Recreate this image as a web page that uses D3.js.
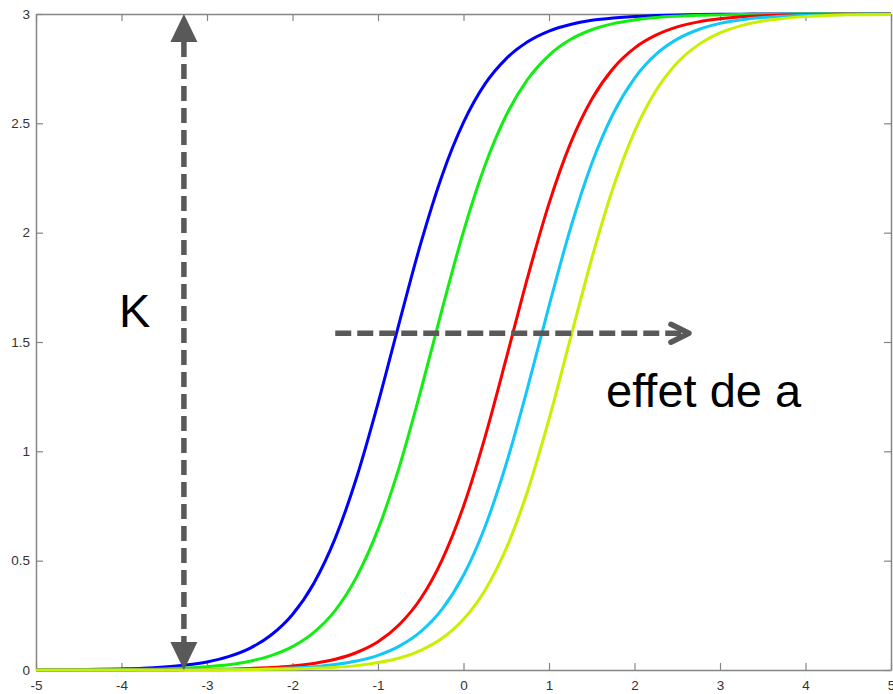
<!DOCTYPE html>
<html>
<head>
<meta charset="utf-8">
<script src="https://cdn.jsdelivr.net/npm/d3@7"></script>
<style>
  html, body { margin: 0; padding: 0; background: #fff; }
  svg { display: block; font-family: "Liberation Sans", Arial, Helvetica, sans-serif; }
</style>
</head>
<body>
<svg id="chart" width="893" height="694"></svg>
<script>
// Sample positions along x (shared by all curves)
const xValues = d3.range(0, 41).map(i => -5 + i * 0.25);

// Logistic curves with carrying capacity K = 3, shifted by the parameter a
const seriesBlue   = [0.001,0.001,0.002,0.003,0.005,0.008,0.014,0.023,0.037,0.061,0.099,0.160,0.254,0.397,0.603,0.880,1.219,1.590,1.951,2.262,2.504,2.679,2.796,2.873,2.922,2.952,2.971,2.982,2.989,2.993,2.996,2.998,2.999,2.999,3.000,3.000,3.000,3.000,3.000,3.000,3.000];
const seriesGreen  = [0.000,0.000,0.001,0.001,0.002,0.003,0.005,0.009,0.015,0.024,0.040,0.066,0.107,0.172,0.273,0.426,0.643,0.930,1.277,1.650,2.005,2.306,2.537,2.701,2.811,2.883,2.928,2.956,2.973,2.984,2.990,2.994,2.996,2.998,2.999,2.999,3.000,3.000,3.000,3.000,3.000];
const seriesRed    = [0.000,0.000,0.000,0.000,0.000,0.001,0.001,0.002,0.002,0.004,0.007,0.011,0.018,0.030,0.049,0.080,0.129,0.208,0.327,0.504,0.749,1.063,1.425,1.796,2.133,2.407,2.610,2.751,2.844,2.903,2.941,2.964,2.978,2.987,2.992,2.995,2.997,2.998,2.999,2.999,3.000];
const seriesCyan   = [0.000,0.000,0.000,0.000,0.000,0.000,0.000,0.001,0.001,0.002,0.003,0.006,0.009,0.015,0.025,0.041,0.067,0.109,0.175,0.278,0.433,0.653,0.943,1.291,1.664,2.018,2.316,2.544,2.706,2.815,2.885,2.929,2.957,2.974,2.984,2.990,2.994,2.996,2.998,2.999,2.999];
const seriesYellow = [0.000,0.000,0.000,0.000,0.000,0.000,0.000,0.000,0.001,0.001,0.002,0.003,0.005,0.008,0.012,0.020,0.034,0.055,0.090,0.145,0.232,0.364,0.556,0.819,1.147,1.515,1.882,2.205,2.462,2.649,2.777,2.860,2.914,2.947,2.968,2.980,2.988,2.993,2.996,2.997,2.998];

const seriesList = [seriesBlue, seriesGreen, seriesRed, seriesCyan, seriesYellow];
const seriesColors = ["#0000ff", "#12ee12", "#ff0000", "#12c8f8", "#c8f000"];

// Axis ticks
const xTicks = [-5, -4, -3, -2, -1, 0, 1, 2, 3, 4, 5];
const yTicks = [0, 0.5, 1, 1.5, 2, 2.5, 3];

// Annotations (data coordinates)
const kLabel = "K";
const kArrowX = -3.27;          // vertical arrow spans 0 .. K
const kRange = [0, 3];
const shiftLabel = "effet de a";
const shiftArrowY = 1.54;
const shiftArrowX = [-1.5, 2.66];

const svg = d3.select("#chart");
const plotLeft = 36, plotRight = 891, plotTop = 14, plotBottom = 670;

const x = d3.scaleLinear().domain([-5, 5]).range([plotLeft, plotRight]);
const y = d3.scaleLinear().domain([0, 3]).range([plotBottom, plotTop]);

const axisColor = "#858585";
const labelColor = "#333333";

// Axes box with inward ticks (labels on bottom and left only)
function styleAxis(g) {
  g.select(".domain").attr("stroke", axisColor).attr("stroke-width", 1.5);
  g.selectAll(".tick line").attr("stroke", axisColor).attr("stroke-width", 1.2);
  g.selectAll(".tick text").attr("fill", labelColor)
    .style("font-family", "'Liberation Sans', Arial, sans-serif").style("font-size", "13.5px");
}

svg.append("g").attr("transform", `translate(0,${plotBottom})`)
  .call(d3.axisBottom(x).tickValues(xTicks).tickFormat(d => String(d)).tickSizeInner(-7).tickSizeOuter(0).tickPadding(10))
  .call(styleAxis);
svg.append("g").attr("transform", `translate(${plotLeft},0)`)
  .call(d3.axisLeft(y).tickValues(yTicks).tickFormat(d => String(d)).tickSizeInner(-7).tickSizeOuter(0).tickPadding(6))
  .call(styleAxis);
svg.append("g").attr("transform", `translate(0,${plotTop})`)
  .call(d3.axisTop(x).tickValues(xTicks).tickFormat("").tickSizeInner(-7).tickSizeOuter(0))
  .call(styleAxis);
svg.append("g").attr("transform", `translate(${plotRight},0)`)
  .call(d3.axisRight(y).tickValues(yTicks).tickFormat("").tickSizeInner(-7).tickSizeOuter(0))
  .call(styleAxis);

// Curves
const line = d3.line()
  .x((d, i) => x(xValues[i]))
  .y(d => y(d))
  .curve(d3.curveMonotoneX);

svg.append("g").selectAll("path.curve")
  .data(seriesList)
  .join("path")
  .attr("class", "curve")
  .attr("fill", "none")
  .attr("stroke", (d, i) => seriesColors[i])
  .attr("stroke-width", 3)
  .attr("stroke-linejoin", "round")
  .attr("d", line);

// Annotation arrows
const annColor = "#595959";
const ann = svg.append("g");

// Vertical double-headed arrow for K
const vx = x(kArrowX);
const yTopTip = y(kRange[1]), yBotTip = y(kRange[0]);
const headH = 28, headW = 27;
ann.append("line")
  .attr("x1", vx).attr("x2", vx)
  .attr("y1", yTopTip + headH).attr("y2", yBotTip - headH)
  .attr("stroke", annColor).attr("stroke-width", 5.5)
  .attr("stroke-dasharray", "15,7");
ann.append("path")
  .attr("d", `M${vx},${yTopTip} L${vx - headW / 2},${yTopTip + headH} L${vx + headW / 2},${yTopTip + headH} Z`)
  .attr("fill", annColor);
ann.append("path")
  .attr("d", `M${vx},${yBotTip} L${vx - headW / 2},${yBotTip - headH} L${vx + headW / 2},${yBotTip - headH} Z`)
  .attr("fill", annColor);

// Horizontal arrow for the shift parameter
const hy = y(shiftArrowY);
const hx0 = x(shiftArrowX[0]), hx1 = x(shiftArrowX[1]);
ann.append("line")
  .attr("x1", hx0).attr("x2", hx1 - 4)
  .attr("y1", hy).attr("y2", hy)
  .attr("stroke", annColor).attr("stroke-width", 5.5)
  .attr("stroke-dasharray", "16,6");
ann.append("path")
  .attr("d", `M${hx1 - 20},${hy - 9} L${hx1 - 2},${hy} L${hx1 - 20},${hy + 9}`)
  .attr("fill", "none").attr("stroke", annColor)
  .attr("stroke-width", 5.5).attr("stroke-linecap", "round").attr("stroke-linejoin", "round");

// Labels
svg.append("text")
  .attr("x", 119).attr("y", 327)
  .attr("fill", "#000")
  .style("font-size", "47px")
  .text(kLabel);
svg.append("text")
  .attr("x", 606).attr("y", 407)
  .attr("fill", "#000")
  .style("font-size", "47px")
  .text(shiftLabel);
</script>
</body>
</html>
